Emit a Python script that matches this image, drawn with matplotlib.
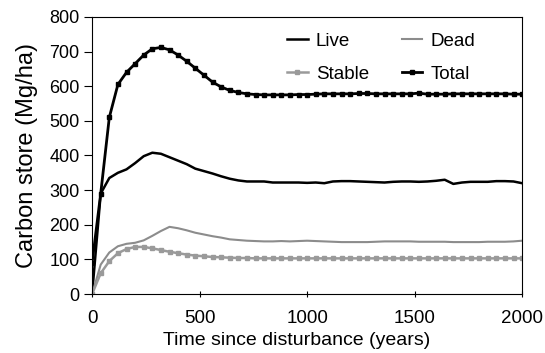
import matplotlib
matplotlib.use('Agg')
import matplotlib.pyplot as plt

plt.rcParams['font.family'] = ['Liberation Sans', 'DejaVu Sans']

# years since disturbance, sampled every 40 years
years = list(range(0, 2001, 40))

total = [90, 290, 510, 605, 640, 665, 690, 708, 712, 705,
         690, 672, 652, 632, 612, 598, 588, 582, 578, 576,
         575, 575, 575, 575, 576, 576, 577, 578, 578, 578,
         578, 579, 579, 578, 578, 578, 578, 578, 580, 577,
         577, 577, 578, 578, 578, 578, 578, 578, 578, 577, 577]

live = [0, 290, 335, 350, 360, 378, 398, 408, 405, 395,
        385, 375, 362, 355, 348, 340, 333, 328, 325, 325,
        325, 322, 322, 322, 322, 321, 322, 320, 325, 326,
        326, 325, 324, 323, 322, 324, 325, 325, 324, 325,
        327, 330, 318, 322, 324, 324, 324, 326, 326, 325, 320]

dead = [0, 85, 120, 138, 145, 148, 155, 168, 182, 194,
        190, 184, 177, 172, 167, 163, 158, 156, 154, 153,
        152, 152, 153, 152, 153, 154, 153, 152, 151, 150,
        150, 150, 150, 151, 152, 152, 152, 152, 151, 151,
        151, 151, 150, 150, 150, 150, 151, 151, 151, 152, 154]

stable = [0, 60, 95, 118, 130, 136, 136, 132, 127, 122,
          118, 114, 111, 109, 107, 106, 105, 104, 104, 103,
          103, 103, 103, 103, 103, 103, 103, 103, 103, 103,
          103, 103, 103, 103, 103, 103, 103, 103, 103, 103,
          103, 103, 103, 103, 103, 103, 103, 103, 103, 103, 103]

fig = plt.figure(figsize=(5.45, 3.53), dpi=100)
ax = fig.add_axes([0.169, 0.167, 0.789, 0.785])

l_live, = ax.plot(years, live, color='black', lw=1.8, label='Live')
l_dead, = ax.plot(years, dead, color='#8c8c8c', lw=1.5, label='Dead')
l_stab, = ax.plot(years, stable, color='#9a9a9a', lw=1.8, marker='s', ms=3, label='Stable')
l_tot, = ax.plot(years, total, color='black', lw=2.0, marker='s', ms=3, label='Total')

ax.set_xlim(0, 2000)
ax.set_ylim(0, 800)
ax.set_xticks([0, 500, 1000, 1500, 2000])
ax.set_yticks(range(0, 801, 100))
ax.tick_params(axis='x', direction='inout', length=5, labelsize=13.5, pad=9)
ax.tick_params(axis='y', direction='out', length=6, labelsize=13, pad=3)
ax.set_xlabel('Time since disturbance (years)', fontsize=14)
ax.set_ylabel('Carbon store (Mg/ha)', fontsize=17)
ax.xaxis.set_label_coords(0.476, -0.137)
ax.yaxis.set_label_coords(-0.125, 0.5)

# matplotlib fills legend columns first, so order handles to get rows Live/Dead, Stable/Total
ax.legend([l_live, l_stab, l_dead, l_tot], ['Live', 'Stable', 'Dead', 'Total'],
          ncol=2, frameon=False, loc='upper left', fontsize=13.5,
          handlelength=1.1, handletextpad=0.45, columnspacing=1.73,
          labelspacing=0.87, borderpad=0, borderaxespad=0,
          bbox_to_anchor=(0.453, 0.944))

fig.savefig('out.png', dpi=100)
